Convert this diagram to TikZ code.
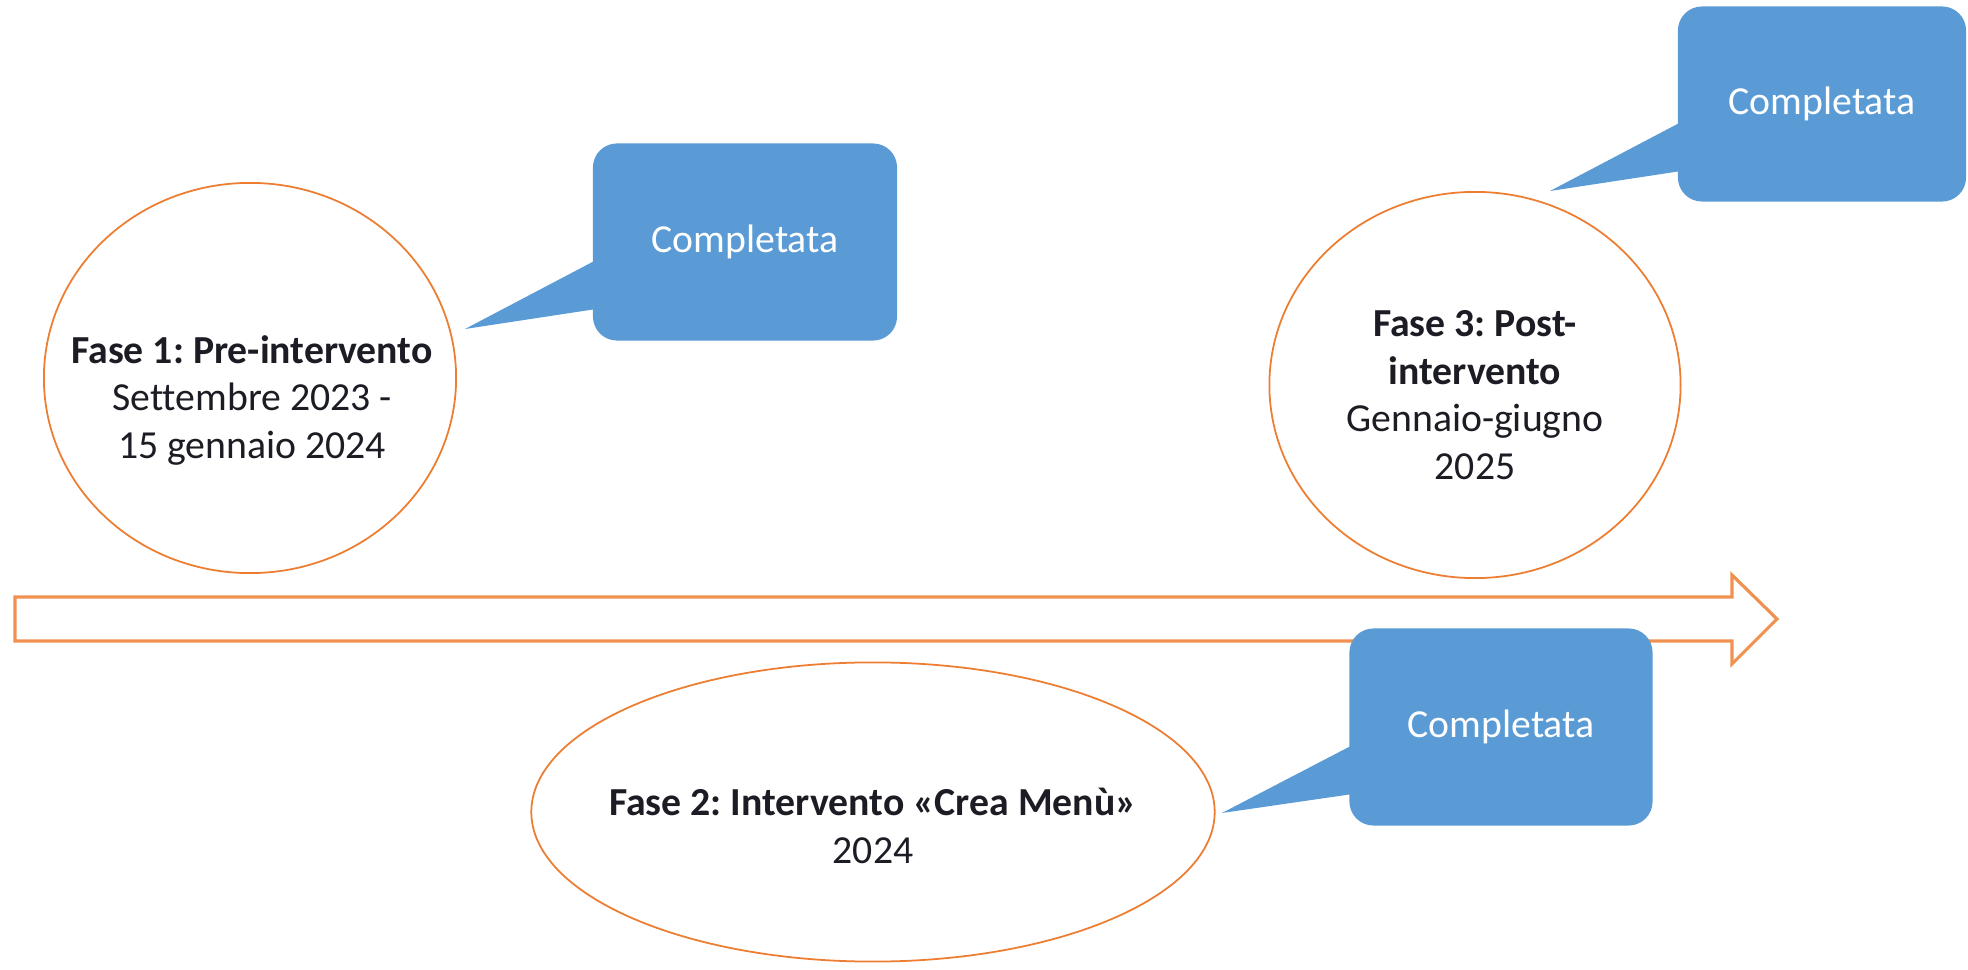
\documentclass[tikz,border=0pt]{standalone}
\usepackage{fontspec}
\setmainfont[Ligatures=NoCommon]{Carlito}
\usepackage{tikz}
\usetikzlibrary{calc}
\usetikzlibrary{shapes.geometric}
\usepackage{xcolor}
\definecolor{fasecol}{HTML}{ED7D31}
\definecolor{bubblecol}{HTML}{5B9BD5}
\definecolor{inkcol}{HTML}{1C1C24}
\frenchspacing

\begin{document}
\begin{tikzpicture}[x=0.01cm,y=-0.01cm,
  fase/.style={ellipse, draw=fasecol, line width=0.5pt, fill=white, inner sep=0pt},
  fasetext/.style={align=center, text=inkcol, font=\fontsize{11.3}{13.5}\selectfont},
  bubble/.style={fill=bubblecol, rounded corners=0.24cm, text=white, inner sep=0pt,
    font=\fontsize{11.3}{13.5}\selectfont}]
  \useasboundingbox[fill=white] (0,0) rectangle (1968,970);

  \draw[fasecol!85, line width=0.9pt, fill=white] (15,597) -- (1732,597) -- (1732,575) -- (1777,619)
    -- (1732,664) -- (1732,641) -- (15,641) -- cycle;

  \node[fase, minimum width=4.12cm, minimum height=3.90cm] (f1) at (250,378) {};
  \node[fasetext] (f1t) at (252,400) {\textbf{Fase 1: Pre-intervento}\\Settembre 2023 -\\15 gennaio 2024};
  \node[fase, minimum width=6.83cm, minimum height=2.99cm] (f2) at (873,812) {};
  \node[fasetext] (f2t) at (873,826) {\textbf{Fase 2: Intervento «Crea Menù»}\\2024};
  \node[fase, minimum width=4.11cm, minimum height=3.86cm] (f3) at (1475,385) {};
  \node[fasetext] (f3t) at (1475,395) {\textbf{Fase 3: Post-}\\\textbf{intervento}\\Gennaio-giugno\\2025};

  \node[bubble, minimum width=3.04cm, minimum height=1.97cm] (c1) at (745,242) {Completata};
  \node[bubble, minimum width=3.03cm, minimum height=1.97cm] (c2) at (1501,727) {Completata};
  \node[bubble, minimum width=2.88cm, minimum height=1.95cm] (c3) at (1822,104) {Completata};
  \coordinate (t1) at (465,329);
  \coordinate (t2) at (1222,813);
  \coordinate (t3) at (1550,191);
  \foreach \c/\t in {c1/t1,c2/t2,c3/t3}
    \fill[bubblecol] ($(\c.west)+(4,18)$) -- (\t) -- ($(\c.west)+(4,67)$) -- cycle;
\end{tikzpicture}
\end{document}
